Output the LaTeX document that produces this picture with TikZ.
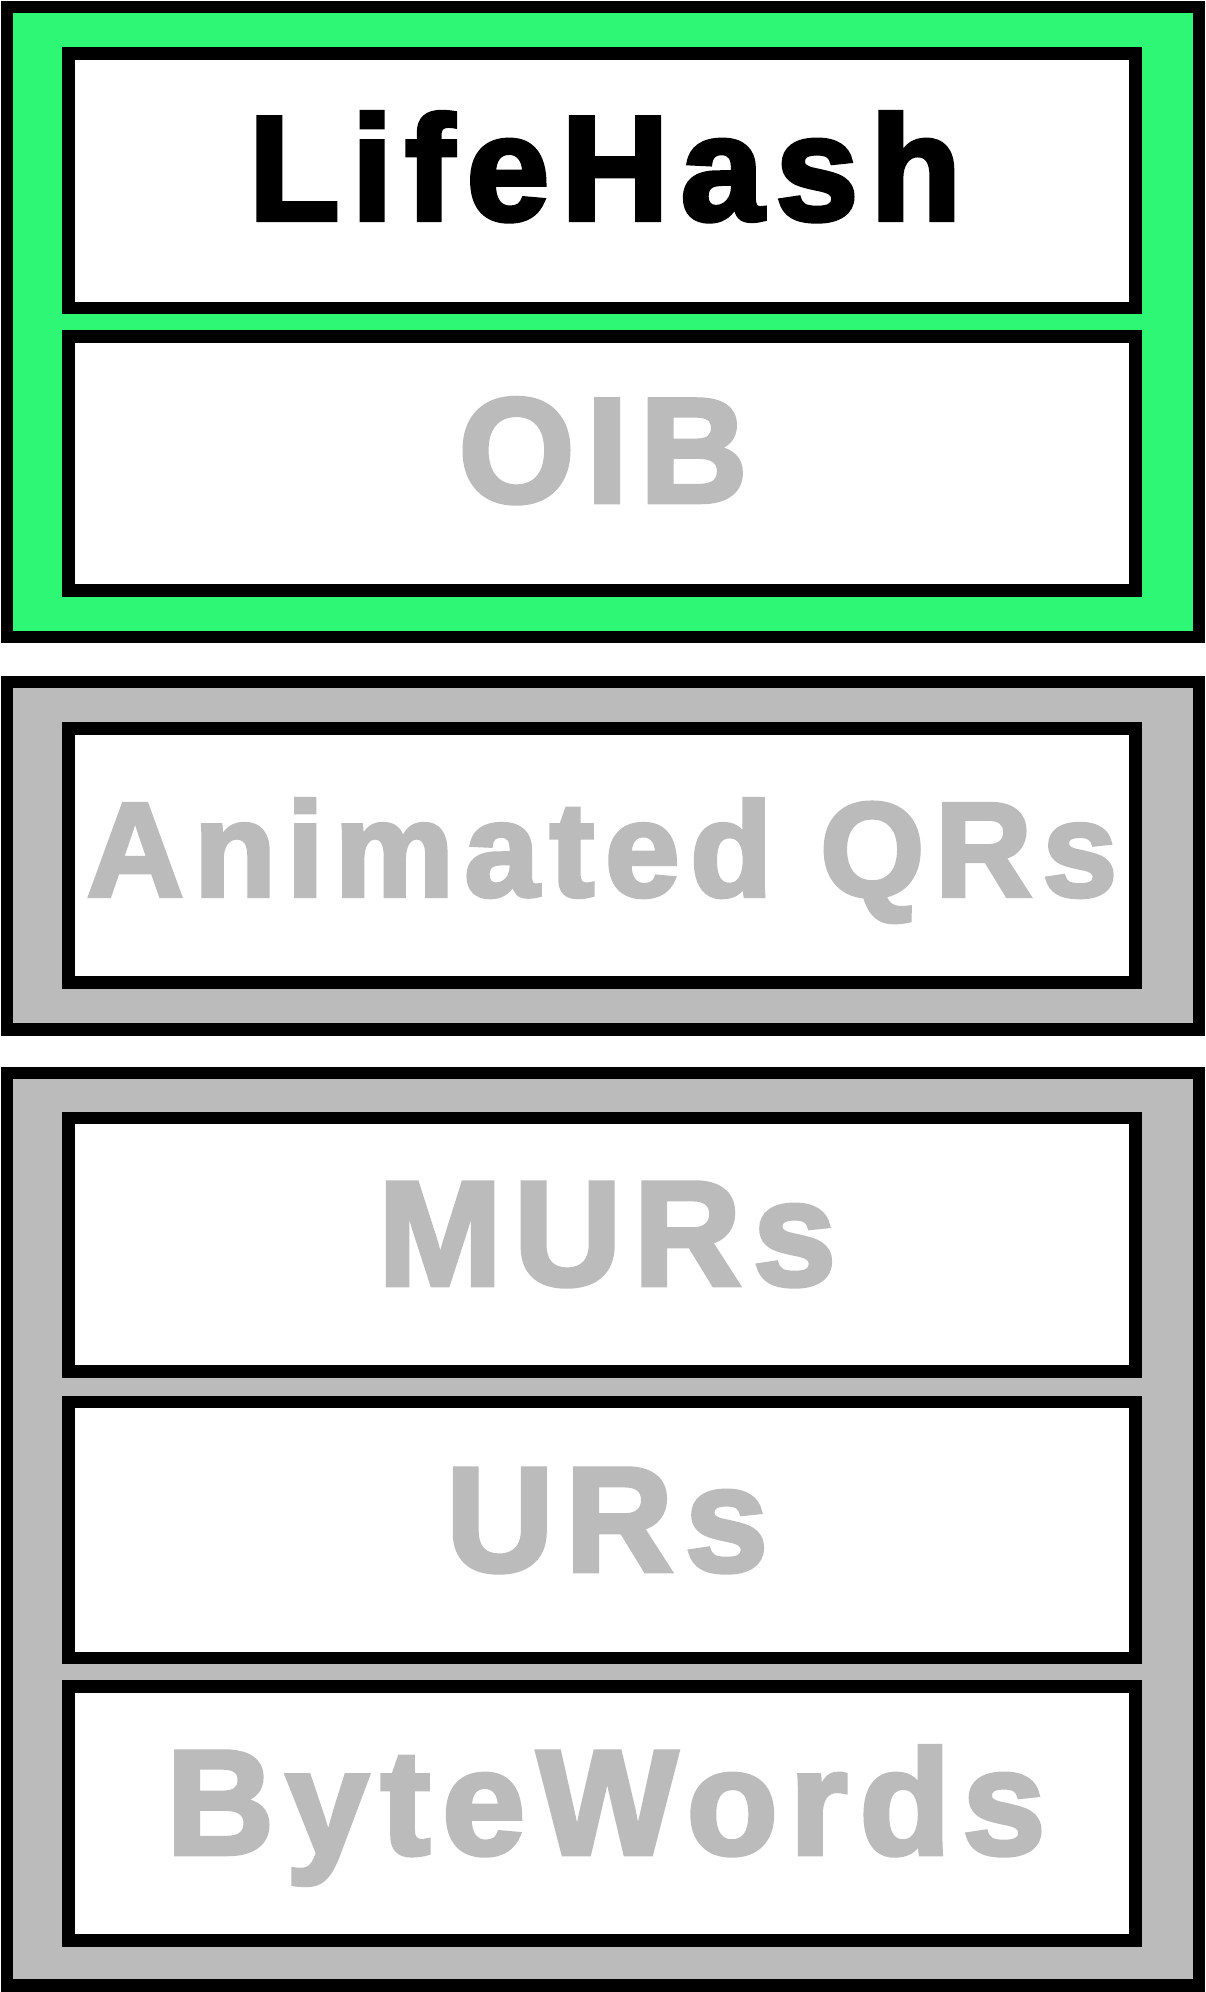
\documentclass[tikz,border=0pt]{standalone}
\usepackage{fontspec}
\newfontfamily\stackfont{Liberation Sans}[LetterSpace=8, FakeBold=3]
\usetikzlibrary{positioning}

\definecolor{lifegreen}{RGB}{46,247,118}
\definecolor{stackgray}{RGB}{187,187,187}

\tikzset{
  layer/.style={draw=black, line width=12.5pt, minimum width=1192pt, inner sep=0pt},
  panel/.style={draw=black, fill=white, line width=12.5pt, minimum width=1067pt, inner sep=0pt},
  biglabel/.style={anchor=base, inner sep=0pt, font=\stackfont\bfseries\fontsize{149}{150}\selectfont},
  midlabel/.style={anchor=base, inner sep=0pt, font=\stackfont\bfseries\fontsize{134}{135}\selectfont}
}

\begin{document}
\begin{tikzpicture}[x=1pt, y=-1pt]
    \useasboundingbox (0,0) rectangle (1205,1992);

    % outer layers
    \node[layer, fill=lifegreen, minimum height=630pt] (toplayer) at (603,322) {};
    \node[layer, fill=stackgray, minimum height=347.5pt] (midlayer) at (603,855.75) {};
    \node[layer, fill=stackgray, minimum height=912.5pt] (botlayer) at (603,1529.25) {};

    % panels
    \node[panel, minimum height=254.5pt] (lifehash) at (602,180.75) {};
    \node[panel, minimum height=254pt] (oib) at (602,463.5) {};
    \node[panel, minimum height=254pt] (animqr) at (602,855.5) {};
    \node[panel, minimum height=253.5pt] (murs) at (602,1244.75) {};
    \node[panel, minimum height=256pt] (urs) at (602,1530) {};
    \node[panel, minimum height=254pt] (bytewords) at (602,1813.5) {};

    % labels
    \node[biglabel, text=black] (lifehashtext) at (605,220) {LifeHash};
    \node[biglabel, text=stackgray] (oibtext) at (603,502) {OIB};
    \node[midlabel, text=stackgray] (animqrtext) at (602,896) {Animated QRs};
    \node[biglabel, text=stackgray] (murstext) at (607,1285) {MURs};
    \node[biglabel, text=stackgray] (urstext) at (607,1571) {URs};
    \node[biglabel, text=stackgray] (bytewordstext) at (606,1854) {ByteWords};
\end{tikzpicture}
\end{document}
